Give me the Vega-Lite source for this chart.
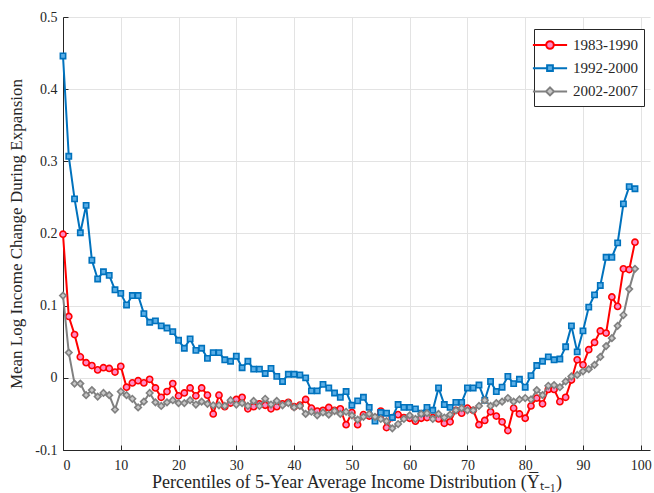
{
  "$schema": "https://vega.github.io/schema/vega-lite/v6.json",
  "width": 587,
  "height": 433,
  "autosize": {"type": "none"},
  "padding": {"left": 63, "top": 17, "right": 4, "bottom": 43},
  "background": "white",
  "config": {
    "view": {"stroke": null},
    "font": "Liberation Serif",
    "axis": {
      "labelFont": "Liberation Serif",
      "titleFont": "Liberation Serif",
      "labelColor": "#262626",
      "titleColor": "#262626",
      "titleFontWeight": "normal",
      "gridColor": "#e3e3e3",
      "gridWidth": 1,
      "domainColor": "#262626",
      "domainWidth": 1,
      "tickColor": "#262626",
      "tickSize": -5,
      "labelFontSize": 14,
      "titleFontSize": 17
    },
    "legend": {
      "title": null, "orient": "none", "legendX": 471, "legendY": 12,
      "strokeColor": "#262626", "fillColor": "white", "padding": 6, "cornerRadius": 0,
      "labelFont": "Liberation Serif", "labelFontSize": 15, "labelColor": "#262626", "labelOffset": 13,
      "symbolSize": 324, "symbolStrokeWidth": 2, "rowPadding": 5.2
    }
  },
  "data": {"values": [
    {"p":0,"s":"1983-1990","v":0.199},{"p":1,"s":"1983-1990","v":0.085},{"p":2,"s":"1983-1990","v":0.060},{"p":3,"s":"1983-1990","v":0.029},{"p":4,"s":"1983-1990","v":0.021},{"p":5,"s":"1983-1990","v":0.017},{"p":6,"s":"1983-1990","v":0.011},{"p":7,"s":"1983-1990","v":0.014},{"p":8,"s":"1983-1990","v":0.013},{"p":9,"s":"1983-1990","v":0.008},
    {"p":10,"s":"1983-1990","v":0.016},{"p":11,"s":"1983-1990","v":-0.013},{"p":12,"s":"1983-1990","v":-0.007},{"p":13,"s":"1983-1990","v":-0.004},{"p":14,"s":"1983-1990","v":-0.007},{"p":15,"s":"1983-1990","v":-0.002},{"p":16,"s":"1983-1990","v":-0.014},{"p":17,"s":"1983-1990","v":-0.027},{"p":18,"s":"1983-1990","v":-0.019},{"p":19,"s":"1983-1990","v":-0.008},
    {"p":20,"s":"1983-1990","v":-0.025},{"p":21,"s":"1983-1990","v":-0.021},{"p":22,"s":"1983-1990","v":-0.014},{"p":23,"s":"1983-1990","v":-0.025},{"p":24,"s":"1983-1990","v":-0.014},{"p":25,"s":"1983-1990","v":-0.024},{"p":26,"s":"1983-1990","v":-0.050},{"p":27,"s":"1983-1990","v":-0.024},{"p":28,"s":"1983-1990","v":-0.040},{"p":29,"s":"1983-1990","v":-0.035},
    {"p":30,"s":"1983-1990","v":-0.030},{"p":31,"s":"1983-1990","v":-0.027},{"p":32,"s":"1983-1990","v":-0.043},{"p":33,"s":"1983-1990","v":-0.040},{"p":34,"s":"1983-1990","v":-0.036},{"p":35,"s":"1983-1990","v":-0.038},{"p":36,"s":"1983-1990","v":-0.043},{"p":37,"s":"1983-1990","v":-0.040},{"p":38,"s":"1983-1990","v":-0.036},{"p":39,"s":"1983-1990","v":-0.034},
    {"p":40,"s":"1983-1990","v":-0.040},{"p":41,"s":"1983-1990","v":-0.038},{"p":42,"s":"1983-1990","v":-0.030},{"p":43,"s":"1983-1990","v":-0.042},{"p":44,"s":"1983-1990","v":-0.046},{"p":45,"s":"1983-1990","v":-0.045},{"p":46,"s":"1983-1990","v":-0.041},{"p":47,"s":"1983-1990","v":-0.045},{"p":48,"s":"1983-1990","v":-0.043},{"p":49,"s":"1983-1990","v":-0.065},
    {"p":50,"s":"1983-1990","v":-0.048},{"p":51,"s":"1983-1990","v":-0.065},{"p":52,"s":"1983-1990","v":-0.051},{"p":53,"s":"1983-1990","v":-0.053},{"p":54,"s":"1983-1990","v":-0.055},{"p":55,"s":"1983-1990","v":-0.046},{"p":56,"s":"1983-1990","v":-0.069},{"p":57,"s":"1983-1990","v":-0.055},{"p":58,"s":"1983-1990","v":-0.051},{"p":59,"s":"1983-1990","v":-0.055},
    {"p":60,"s":"1983-1990","v":-0.056},{"p":61,"s":"1983-1990","v":-0.060},{"p":62,"s":"1983-1990","v":-0.056},{"p":63,"s":"1983-1990","v":-0.055},{"p":64,"s":"1983-1990","v":-0.055},{"p":65,"s":"1983-1990","v":-0.057},{"p":66,"s":"1983-1990","v":-0.063},{"p":67,"s":"1983-1990","v":-0.061},{"p":68,"s":"1983-1990","v":-0.045},{"p":69,"s":"1983-1990","v":-0.049},
    {"p":70,"s":"1983-1990","v":-0.042},{"p":71,"s":"1983-1990","v":-0.045},{"p":72,"s":"1983-1990","v":-0.065},{"p":73,"s":"1983-1990","v":-0.059},{"p":74,"s":"1983-1990","v":-0.047},{"p":75,"s":"1983-1990","v":-0.053},{"p":76,"s":"1983-1990","v":-0.061},{"p":77,"s":"1983-1990","v":-0.073},{"p":78,"s":"1983-1990","v":-0.042},{"p":79,"s":"1983-1990","v":-0.050},
    {"p":80,"s":"1983-1990","v":-0.056},{"p":81,"s":"1983-1990","v":-0.039},{"p":82,"s":"1983-1990","v":-0.028},{"p":83,"s":"1983-1990","v":-0.036},{"p":84,"s":"1983-1990","v":-0.016},{"p":85,"s":"1983-1990","v":-0.016},{"p":86,"s":"1983-1990","v":-0.033},{"p":87,"s":"1983-1990","v":-0.027},{"p":88,"s":"1983-1990","v":-0.003},{"p":89,"s":"1983-1990","v":0.025},
    {"p":90,"s":"1983-1990","v":0.018},{"p":91,"s":"1983-1990","v":0.039},{"p":92,"s":"1983-1990","v":0.049},{"p":93,"s":"1983-1990","v":0.065},{"p":94,"s":"1983-1990","v":0.062},{"p":95,"s":"1983-1990","v":0.112},{"p":96,"s":"1983-1990","v":0.099},{"p":97,"s":"1983-1990","v":0.151},{"p":98,"s":"1983-1990","v":0.150},{"p":99,"s":"1983-1990","v":0.188},
    {"p":0,"s":"1992-2000","v":0.446},{"p":1,"s":"1992-2000","v":0.307},{"p":2,"s":"1992-2000","v":0.248},{"p":3,"s":"1992-2000","v":0.201},{"p":4,"s":"1992-2000","v":0.239},{"p":5,"s":"1992-2000","v":0.163},{"p":6,"s":"1992-2000","v":0.137},{"p":7,"s":"1992-2000","v":0.147},{"p":8,"s":"1992-2000","v":0.142},{"p":9,"s":"1992-2000","v":0.122},
    {"p":10,"s":"1992-2000","v":0.117},{"p":11,"s":"1992-2000","v":0.101},{"p":12,"s":"1992-2000","v":0.114},{"p":13,"s":"1992-2000","v":0.114},{"p":14,"s":"1992-2000","v":0.089},{"p":15,"s":"1992-2000","v":0.077},{"p":16,"s":"1992-2000","v":0.079},{"p":17,"s":"1992-2000","v":0.072},{"p":18,"s":"1992-2000","v":0.069},{"p":19,"s":"1992-2000","v":0.064},
    {"p":20,"s":"1992-2000","v":0.052},{"p":21,"s":"1992-2000","v":0.041},{"p":22,"s":"1992-2000","v":0.054},{"p":23,"s":"1992-2000","v":0.038},{"p":24,"s":"1992-2000","v":0.041},{"p":25,"s":"1992-2000","v":0.027},{"p":26,"s":"1992-2000","v":0.035},{"p":27,"s":"1992-2000","v":0.035},{"p":28,"s":"1992-2000","v":0.025},{"p":29,"s":"1992-2000","v":0.023},
    {"p":30,"s":"1992-2000","v":0.030},{"p":31,"s":"1992-2000","v":0.014},{"p":32,"s":"1992-2000","v":0.023},{"p":33,"s":"1992-2000","v":0.012},{"p":34,"s":"1992-2000","v":0.012},{"p":35,"s":"1992-2000","v":0.006},{"p":36,"s":"1992-2000","v":0.013},{"p":37,"s":"1992-2000","v":0.002},{"p":38,"s":"1992-2000","v":-0.005},{"p":39,"s":"1992-2000","v":0.005},
    {"p":40,"s":"1992-2000","v":0.005},{"p":41,"s":"1992-2000","v":0.004},{"p":42,"s":"1992-2000","v":0.000},{"p":43,"s":"1992-2000","v":-0.018},{"p":44,"s":"1992-2000","v":-0.018},{"p":45,"s":"1992-2000","v":-0.009},{"p":46,"s":"1992-2000","v":-0.014},{"p":47,"s":"1992-2000","v":-0.021},{"p":48,"s":"1992-2000","v":-0.027},{"p":49,"s":"1992-2000","v":-0.019},
    {"p":50,"s":"1992-2000","v":-0.038},{"p":51,"s":"1992-2000","v":-0.032},{"p":52,"s":"1992-2000","v":-0.027},{"p":53,"s":"1992-2000","v":-0.041},{"p":54,"s":"1992-2000","v":-0.060},{"p":55,"s":"1992-2000","v":-0.048},{"p":56,"s":"1992-2000","v":-0.049},{"p":57,"s":"1992-2000","v":-0.055},{"p":58,"s":"1992-2000","v":-0.037},{"p":59,"s":"1992-2000","v":-0.041},
    {"p":60,"s":"1992-2000","v":-0.041},{"p":61,"s":"1992-2000","v":-0.043},{"p":62,"s":"1992-2000","v":-0.049},{"p":63,"s":"1992-2000","v":-0.041},{"p":64,"s":"1992-2000","v":-0.045},{"p":65,"s":"1992-2000","v":-0.014},{"p":66,"s":"1992-2000","v":-0.037},{"p":67,"s":"1992-2000","v":-0.041},{"p":68,"s":"1992-2000","v":-0.034},{"p":69,"s":"1992-2000","v":-0.034},
    {"p":70,"s":"1992-2000","v":-0.014},{"p":71,"s":"1992-2000","v":-0.014},{"p":72,"s":"1992-2000","v":-0.010},{"p":73,"s":"1992-2000","v":-0.031},{"p":74,"s":"1992-2000","v":-0.005},{"p":75,"s":"1992-2000","v":-0.019},{"p":76,"s":"1992-2000","v":-0.013},{"p":77,"s":"1992-2000","v":0.002},{"p":78,"s":"1992-2000","v":-0.008},{"p":79,"s":"1992-2000","v":-0.002},
    {"p":80,"s":"1992-2000","v":-0.013},{"p":81,"s":"1992-2000","v":0.003},{"p":82,"s":"1992-2000","v":0.017},{"p":83,"s":"1992-2000","v":0.023},{"p":84,"s":"1992-2000","v":0.029},{"p":85,"s":"1992-2000","v":0.025},{"p":86,"s":"1992-2000","v":0.026},{"p":87,"s":"1992-2000","v":0.043},{"p":88,"s":"1992-2000","v":0.072},{"p":89,"s":"1992-2000","v":0.036},
    {"p":90,"s":"1992-2000","v":0.065},{"p":91,"s":"1992-2000","v":0.098},{"p":92,"s":"1992-2000","v":0.115},{"p":93,"s":"1992-2000","v":0.128},{"p":94,"s":"1992-2000","v":0.167},{"p":95,"s":"1992-2000","v":0.167},{"p":96,"s":"1992-2000","v":0.187},{"p":97,"s":"1992-2000","v":0.241},{"p":98,"s":"1992-2000","v":0.265},{"p":99,"s":"1992-2000","v":0.262},
    {"p":0,"s":"2002-2007","v":0.114},{"p":1,"s":"2002-2007","v":0.035},{"p":2,"s":"2002-2007","v":-0.008},{"p":3,"s":"2002-2007","v":-0.008},{"p":4,"s":"2002-2007","v":-0.024},{"p":5,"s":"2002-2007","v":-0.017},{"p":6,"s":"2002-2007","v":-0.026},{"p":7,"s":"2002-2007","v":-0.021},{"p":8,"s":"2002-2007","v":-0.024},{"p":9,"s":"2002-2007","v":-0.044},
    {"p":10,"s":"2002-2007","v":-0.019},{"p":11,"s":"2002-2007","v":-0.024},{"p":12,"s":"2002-2007","v":-0.029},{"p":13,"s":"2002-2007","v":-0.041},{"p":14,"s":"2002-2007","v":-0.033},{"p":15,"s":"2002-2007","v":-0.021},{"p":16,"s":"2002-2007","v":-0.034},{"p":17,"s":"2002-2007","v":-0.039},{"p":18,"s":"2002-2007","v":-0.034},{"p":19,"s":"2002-2007","v":-0.031},
    {"p":20,"s":"2002-2007","v":-0.035},{"p":21,"s":"2002-2007","v":-0.035},{"p":22,"s":"2002-2007","v":-0.031},{"p":23,"s":"2002-2007","v":-0.037},{"p":24,"s":"2002-2007","v":-0.033},{"p":25,"s":"2002-2007","v":-0.036},{"p":26,"s":"2002-2007","v":-0.038},{"p":27,"s":"2002-2007","v":-0.038},{"p":28,"s":"2002-2007","v":-0.039},{"p":29,"s":"2002-2007","v":-0.031},
    {"p":30,"s":"2002-2007","v":-0.037},{"p":31,"s":"2002-2007","v":-0.035},{"p":32,"s":"2002-2007","v":-0.039},{"p":33,"s":"2002-2007","v":-0.032},{"p":34,"s":"2002-2007","v":-0.039},{"p":35,"s":"2002-2007","v":-0.029},{"p":36,"s":"2002-2007","v":-0.037},{"p":37,"s":"2002-2007","v":-0.032},{"p":38,"s":"2002-2007","v":-0.038},{"p":39,"s":"2002-2007","v":-0.035},
    {"p":40,"s":"2002-2007","v":-0.041},{"p":41,"s":"2002-2007","v":-0.039},{"p":42,"s":"2002-2007","v":-0.050},{"p":43,"s":"2002-2007","v":-0.047},{"p":44,"s":"2002-2007","v":-0.052},{"p":45,"s":"2002-2007","v":-0.048},{"p":46,"s":"2002-2007","v":-0.051},{"p":47,"s":"2002-2007","v":-0.046},{"p":48,"s":"2002-2007","v":-0.050},{"p":49,"s":"2002-2007","v":-0.047},
    {"p":50,"s":"2002-2007","v":-0.052},{"p":51,"s":"2002-2007","v":-0.058},{"p":52,"s":"2002-2007","v":-0.054},{"p":53,"s":"2002-2007","v":-0.050},{"p":54,"s":"2002-2007","v":-0.054},{"p":55,"s":"2002-2007","v":-0.057},{"p":56,"s":"2002-2007","v":-0.060},{"p":57,"s":"2002-2007","v":-0.070},{"p":58,"s":"2002-2007","v":-0.064},{"p":59,"s":"2002-2007","v":-0.057},
    {"p":60,"s":"2002-2007","v":-0.052},{"p":61,"s":"2002-2007","v":-0.057},{"p":62,"s":"2002-2007","v":-0.050},{"p":63,"s":"2002-2007","v":-0.049},{"p":64,"s":"2002-2007","v":-0.057},{"p":65,"s":"2002-2007","v":-0.050},{"p":66,"s":"2002-2007","v":-0.055},{"p":67,"s":"2002-2007","v":-0.051},{"p":68,"s":"2002-2007","v":-0.045},{"p":69,"s":"2002-2007","v":-0.042},
    {"p":70,"s":"2002-2007","v":-0.045},{"p":71,"s":"2002-2007","v":-0.045},{"p":72,"s":"2002-2007","v":-0.039},{"p":73,"s":"2002-2007","v":-0.031},{"p":74,"s":"2002-2007","v":-0.039},{"p":75,"s":"2002-2007","v":-0.035},{"p":76,"s":"2002-2007","v":-0.033},{"p":77,"s":"2002-2007","v":-0.028},{"p":78,"s":"2002-2007","v":-0.033},{"p":79,"s":"2002-2007","v":-0.030},
    {"p":80,"s":"2002-2007","v":-0.028},{"p":81,"s":"2002-2007","v":-0.030},{"p":82,"s":"2002-2007","v":-0.017},{"p":83,"s":"2002-2007","v":-0.024},{"p":84,"s":"2002-2007","v":-0.011},{"p":85,"s":"2002-2007","v":-0.010},{"p":86,"s":"2002-2007","v":-0.013},{"p":87,"s":"2002-2007","v":-0.005},{"p":88,"s":"2002-2007","v":0.002},{"p":89,"s":"2002-2007","v":0.004},
    {"p":90,"s":"2002-2007","v":0.009},{"p":91,"s":"2002-2007","v":0.012},{"p":92,"s":"2002-2007","v":0.018},{"p":93,"s":"2002-2007","v":0.029},{"p":94,"s":"2002-2007","v":0.044},{"p":95,"s":"2002-2007","v":0.055},{"p":96,"s":"2002-2007","v":0.072},{"p":97,"s":"2002-2007","v":0.087},{"p":98,"s":"2002-2007","v":0.123},{"p":99,"s":"2002-2007","v":0.151}
  ]},
  "encoding": {
    "x": {
      "field": "p", "type": "quantitative",
      "scale": {"domain": [0, 101.6], "nice": false, "zero": false},
      "axis": {
        "values": [0, 10, 20, 30, 40, 50, 60, 70, 80, 90, 100],
        "grid": true,
        "labelPadding": 13,
        "titlePadding": 1,
        "titleFontSize": 18,
        "title": "Percentiles of 5-Year Average Income Distribution (Y̅ₜ₋₁)"
      }
    },
    "y": {
      "field": "v", "type": "quantitative",
      "scale": {"domain": [-0.1, 0.5], "nice": false, "zero": false},
      "axis": {
        "values": [-0.1, 0, 0.1, 0.2, 0.3, 0.4, 0.5],
        "grid": true,
        "labelPadding": 11,
        "titlePadding": 9,
        "labelExpr": "datum.value < -0.05 ? '-0.1' : (abs(datum.value) < 0.001 ? '0' : format(datum.value, '.1f'))",
        "title": "Mean Log Income Change During Expansion"
      }
    }
  },
  "layer": [
    {
      "transform": [{"filter": "datum.s === '1983-1990'"}],
      "layer": [
        {
          "mark": {"type": "line", "strokeWidth": 2},
          "encoding": {
            "color": {
              "field": "s", "type": "nominal",
              "scale": {"domain": ["1983-1990", "1992-2000", "2002-2007"], "range": ["#ff0000", "#0072bd", "#808080"]},
              "legend": {
                "encode": {"symbols": {"update": {
                  "shape": {"signal": "datum.value === '1983-1990' ? 'M-1.9,0H-0.42M0.42,0H1.9M0.42,0A0.42,0.42 0 1 1 -0.42,0A0.42,0.42 0 1 1 0.42,0Z' : (datum.value === '1992-2000' ? 'M-1.9,0H-0.32M0.32,0H1.9M-0.32,-0.32H0.32V0.32H-0.32Z' : 'M-1.9,0H-0.45M0.45,0H1.9M0,-0.45L0.45,0L0,0.45L-0.45,0Z')"},
                  "fill": {"signal": "datum.value === '1983-1990' ? '#ff8ac4' : (datum.value === '1992-2000' ? '#5aaee6' : '#c8c8c8')"},
                  "opacity": {"value": 1}
                }}}
              }
            }
          }
        },
        {
          "mark": {"type": "point", "shape": "circle", "filled": true, "fill": "#ff8ac4", "stroke": "#ff0000", "strokeWidth": 1.6, "size": 38, "opacity": 1}
        }
      ]
    },
    {
      "transform": [{"filter": "datum.s === '1992-2000'"}],
      "layer": [
        {
          "mark": {"type": "line", "strokeWidth": 2},
          "encoding": {
            "color": {
              "field": "s", "type": "nominal",
              "scale": {"domain": ["1983-1990", "1992-2000", "2002-2007"], "range": ["#ff0000", "#0072bd", "#808080"]},
              "legend": {
                "encode": {"symbols": {"update": {
                  "shape": {"signal": "datum.value === '1983-1990' ? 'M-1.9,0H-0.42M0.42,0H1.9M0.42,0A0.42,0.42 0 1 1 -0.42,0A0.42,0.42 0 1 1 0.42,0Z' : (datum.value === '1992-2000' ? 'M-1.9,0H-0.32M0.32,0H1.9M-0.32,-0.32H0.32V0.32H-0.32Z' : 'M-1.9,0H-0.45M0.45,0H1.9M0,-0.45L0.45,0L0,0.45L-0.45,0Z')"},
                  "fill": {"signal": "datum.value === '1983-1990' ? '#ff8ac4' : (datum.value === '1992-2000' ? '#5aaee6' : '#c8c8c8')"},
                  "opacity": {"value": 1}
                }}}
              }
            }
          }
        },
        {
          "mark": {"type": "point", "shape": "square", "filled": true, "fill": "#5aaee6", "stroke": "#0072bd", "strokeWidth": 1.6, "size": 28, "opacity": 1}
        }
      ]
    },
    {
      "transform": [{"filter": "datum.s === '2002-2007'"}],
      "layer": [
        {
          "mark": {"type": "line", "strokeWidth": 2},
          "encoding": {
            "color": {
              "field": "s", "type": "nominal",
              "scale": {"domain": ["1983-1990", "1992-2000", "2002-2007"], "range": ["#ff0000", "#0072bd", "#808080"]},
              "legend": {
                "encode": {"symbols": {"update": {
                  "shape": {"signal": "datum.value === '1983-1990' ? 'M-1.9,0H-0.42M0.42,0H1.9M0.42,0A0.42,0.42 0 1 1 -0.42,0A0.42,0.42 0 1 1 0.42,0Z' : (datum.value === '1992-2000' ? 'M-1.9,0H-0.32M0.32,0H1.9M-0.32,-0.32H0.32V0.32H-0.32Z' : 'M-1.9,0H-0.45M0.45,0H1.9M0,-0.45L0.45,0L0,0.45L-0.45,0Z')"},
                  "fill": {"signal": "datum.value === '1983-1990' ? '#ff8ac4' : (datum.value === '1992-2000' ? '#5aaee6' : '#c8c8c8')"},
                  "opacity": {"value": 1}
                }}}
              }
            }
          }
        },
        {
          "mark": {"type": "point", "shape": "diamond", "filled": true, "fill": "#c8c8c8", "stroke": "#808080", "strokeWidth": 1.6, "size": 42, "opacity": 1}
        }
      ]
    }
  ]
}
